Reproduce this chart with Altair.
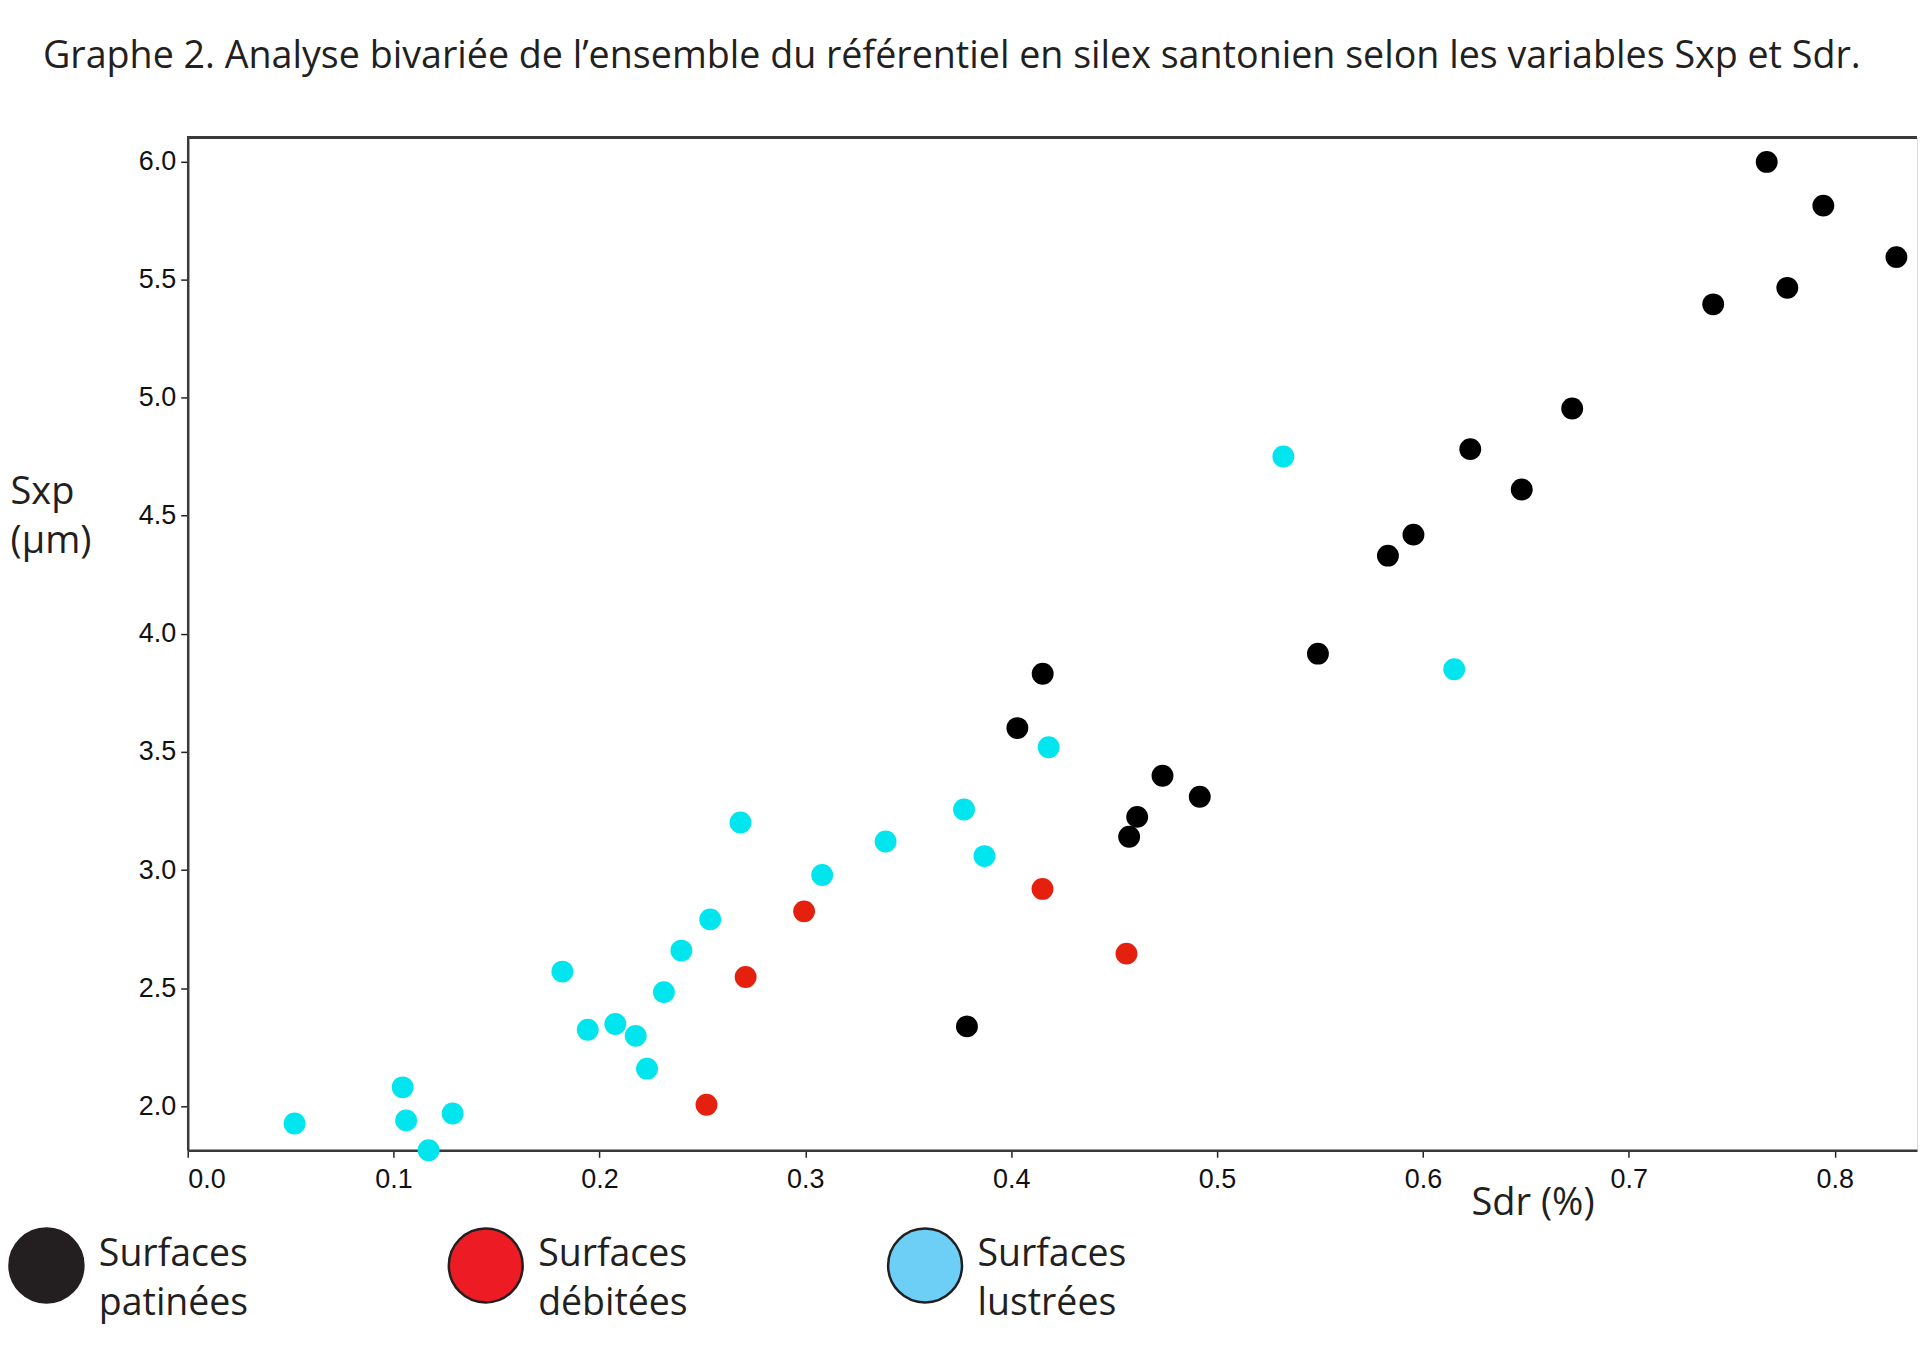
import altair as alt
import pandas as pd

# ---------------- data ----------------
groups = ["Surfaces patinées", "Surfaces débitées", "Surfaces lustrées"]

patinees_sdr = [0.767, 0.7945, 0.830, 0.777, 0.741, 0.6725, 0.623, 0.648, 0.5954,
                0.583, 0.549, 0.4153, 0.403, 0.4735, 0.4916, 0.4612, 0.4573, 0.3785]
patinees_sxp = [5.998, 5.813, 5.595, 5.465, 5.395, 4.954, 4.782, 4.611, 4.420,
                4.331, 3.916, 3.831, 3.601, 3.399, 3.310, 3.225, 3.141, 2.338]

debitees_sdr = [0.2994, 0.4152, 0.271, 0.456, 0.252]
debitees_sxp = [2.825, 2.920, 2.547, 2.646, 2.006]

lustrees_sdr = [0.5322, 0.6152, 0.4182, 0.2685, 0.3771, 0.339, 0.387, 0.3082,
                0.2538, 0.2398, 0.182, 0.2313, 0.1943, 0.2077, 0.2176, 0.2231,
                0.1044, 0.1061, 0.1287, 0.117, 0.0519]
lustrees_sxp = [4.751, 3.850, 3.520, 3.201, 3.256, 3.121, 3.059, 2.979,
                2.791, 2.659, 2.570, 2.483, 2.324, 2.348, 2.298, 2.159,
                2.080, 1.940, 1.969, 1.814, 1.927]

x_ticks = [0.0, 0.1, 0.2, 0.3, 0.4, 0.5, 0.6, 0.7, 0.8]
y_ticks = [2.0, 2.5, 3.0, 3.5, 4.0, 4.5, 5.0, 5.5, 6.0]
x_domain = [0.0, 0.84]
y_domain = [1.8136, 6.1]

point_colors = ["#000000", "#e5200e", "#00e5ee"]
legend_colors = ["#231f20", "#ed1c24", "#6dcff6"]

title_text = ("Graphe 2. Analyse bivariée de l\u2019ensemble du référentiel en silex "
              "santonien selon les variables Sxp et Sdr.")

rows = []
for g, xs, ys in [(groups[0], patinees_sdr, patinees_sxp),
                  (groups[1], debitees_sdr, debitees_sxp),
                  (groups[2], lustrees_sdr, lustrees_sxp)]:
    for a, b in zip(xs, ys):
        rows.append({"Sdr": a, "Sxp": b, "groupe": g})
df = pd.DataFrame(rows)
legend_df = pd.DataFrame({"legende": groups})

TEXT = "#231f20"
SANS = "Open Sans"
NUM = "Liberation Sans"

x_axis = alt.Axis(
    values=x_ticks, format=".1f", title="Sdr (%)", grid=False,
    domainColor="#3a3a3a", domainWidth=2.5, tickColor="#222222", tickSize=7,
    tickWidth=1.5, labelFont=NUM, labelFontSize=27, labelColor="#111111",
    labelPadding=9, titleFont=SANS, titleFontSize=38, titleFontWeight="normal",
    titleColor=TEXT, titleX=1347, titleY=64, titleBaseline="alphabetic",
    titleAlign="center",
)
y_axis = alt.Axis(
    values=y_ticks, format=".1f", title=["Sxp", "(µm)"], grid=False,
    domainColor="#3a3a3a", domainWidth=2.5, tickColor="#222222", tickSize=7,
    tickWidth=1.5, labelFont=NUM, labelFontSize=27, labelColor="#111111",
    labelPadding=5, titleFont=SANS, titleFontSize=38, titleFontWeight="normal",
    titleColor=TEXT, titleAngle=0, titleAlign="left", titleBaseline="alphabetic",
    titleX=-178, titleY=366, titleLineHeight=49,
)

points = alt.Chart(df).mark_circle(opacity=1, size=480).encode(
    x=alt.X("Sdr:Q", scale=alt.Scale(domain=x_domain, nice=False, zero=False), axis=x_axis),
    y=alt.Y("Sxp:Q", scale=alt.Scale(domain=y_domain, nice=False, zero=False), axis=y_axis),
    color=alt.Color("groupe:N", scale=alt.Scale(domain=groups, range=point_colors), legend=None),
)

top_rule = alt.Chart(df).mark_rule(color="#3a3a3a", strokeWidth=2.5).encode(
    y=alt.datum(y_domain[1])
)

legend_layer = alt.Chart(legend_df).transform_filter("false").mark_circle(
    opacity=1, size=5476, stroke=TEXT, strokeWidth=2.5
).encode(
    fill=alt.Fill(
        "legende:N",
        scale=alt.Scale(domain=groups, range=legend_colors),
        legend=alt.Legend(
            title=None, orient="none", direction="horizontal",
            legendX=-180, legendY=1091, padding=0,
            symbolType="circle", symbolSize=5476, symbolStrokeColor=TEXT,
            symbolStrokeWidth=2.5, symbolOpacity=1,
            labelFont=SANS, labelFontSize=37.5, labelColor=TEXT, labelOffset=14,
            labelLimit=0, labelBaseline="alphabetic", gridAlign="each",
            labelExpr="split(datum.label, ' ')", columnPadding=195,
        ),
    )
)

chart = alt.layer(top_rule, points, legend_layer).resolve_scale(
    color="independent", fill="independent"
).properties(
    width=1732,
    height=1014,
    padding={"left": 0, "top": 29, "right": 0, "bottom": 5},
    title=alt.TitleParams(
        text=title_text, anchor="start", font=SANS, fontSize=37.7,
        fontWeight="normal", color=TEXT, dx=35, offset=31, baseline="alphabetic",
    ),
).configure_view(stroke=None).configure(
    style={"guide-label": {"lineHeight": 50}}
)

chart.save("out.html", embed_options={"renderer": "svg", "actions": False})
